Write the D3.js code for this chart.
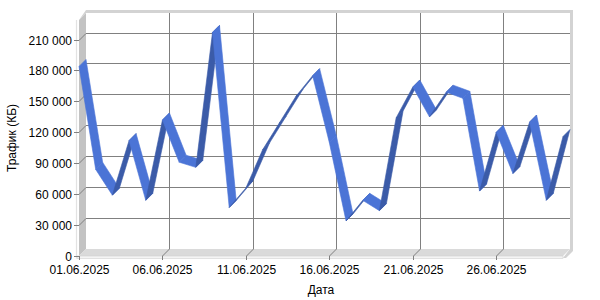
<!DOCTYPE html>
<html lang="ru">
<head>
<meta charset="UTF-8">
<title>Трафик (КБ)</title>
<script src="https://d3js.org/d3.v7.min.js"></script>
<style>
  body { margin: 0; background: #fff; font-family: "Liberation Sans", Arial, sans-serif; }
  svg text { font-size: 12px; fill: #000; }
</style>
</head>
<body>
<svg width="600" height="300"></svg>
<script>
// daily traffic, KB
const dates = [
  "01.06.2025", "02.06.2025", "03.06.2025", "04.06.2025", "05.06.2025",
  "06.06.2025", "07.06.2025", "08.06.2025", "09.06.2025", "10.06.2025",
  "11.06.2025", "12.06.2025", "13.06.2025", "14.06.2025", "15.06.2025",
  "16.06.2025", "17.06.2025", "18.06.2025", "19.06.2025", "20.06.2025",
  "21.06.2025", "22.06.2025", "23.06.2025", "24.06.2025", "25.06.2025",
  "26.06.2025", "27.06.2025", "28.06.2025", "29.06.2025", "30.06.2025"
];
const traffic = [
  184000, 84000, 59000, 112000, 54000,
  132000, 91000, 86000, 217000, 47000,
  66000, 103000, 129000, 155000, 175000,
  110000, 34000, 54000, 44000, 134000,
  164000, 135000, 159000, 153000, 63000,
  120000, 80000, 130000, 54000, 116000
];
const yTicks = [0, 30000, 60000, 90000, 120000, 150000, 180000, 210000];
const xTicks = ["01.06.2025", "06.06.2025", "11.06.2025", "16.06.2025", "21.06.2025", "26.06.2025"];
const yMax = 229000;

const parse = d3.timeParse("%d.%m.%Y");
const fmtDate = d3.timeFormat("%d.%m.%Y");
const fmtNum = d3.formatLocale({ decimal: ",", thousands: " ", grouping: [3], currency: ["", ""] }).format(",d");

// 3D depth of the plot
const DX = 7, DY = 7;

const svg = d3.select("svg");

// front plane scales; the back wall is the same shifted by (DX, -DY)
const x = d3.scaleTime()
  .domain([parse(dates[0]), parse(dates[dates.length - 1])])
  .range([79, 563]);
const y = d3.scaleLinear()
  .domain([0, yMax])
  .range([256, 20]);

const x0 = x.range()[0], x1 = x.range()[1];
const yTop = y.range()[1], yBot = y.range()[0];

// back wall
svg.append("rect")
  .attr("x", x0 + DX).attr("y", yTop - DY)
  .attr("width", x1 - x0).attr("height", yBot - yTop)
  .attr("fill", "#fff");

// top and right rims of the back wall
svg.append("path")
  .attr("d", `M${x0},${yTop} L${x0 + DX},${yTop - DY - 3} L${x1 + DX + 3},${yTop - DY - 3} L${x1 + DX + 3},${yBot - DY + 2} L${x1 + 3},${yBot + 2} L${x1},${yBot + 2} L${x1 + DX},${yBot - DY} L${x1 + DX},${yTop - DY} L${x0 + DX},${yTop - DY} Z`)
  .attr("fill", "#d3d3d3");

// left wall
svg.append("path")
  .attr("d", `M${x0},${yBot} L${x0},${yTop} L${x0 + DX},${yTop - DY} L${x0 + DX},${yBot - DY} Z`)
  .attr("fill", "#c3c3c3");

// floor
svg.append("path")
  .attr("d", `M${x0},${yBot} L${x0 + DX},${yBot - DY} L${x1 + DX},${yBot - DY} L${x1},${yBot} Z`)
  .attr("fill", "#dadada");
svg.append("rect")
  .attr("x", x0 - 2).attr("y", yBot)
  .attr("width", x1 - x0 + 2).attr("height", 2.5)
  .attr("fill", "#f4f4f4").attr("stroke", "#d0d0d0").attr("stroke-width", 0.6);

// axis lines (very light)
svg.append("line")
  .attr("x1", x0 - 2.5).attr("x2", x0 - 2.5)
  .attr("y1", yTop).attr("y2", yBot + 2.5)
  .attr("stroke", "#e2e2e2").attr("stroke-width", 1.2);

// horizontal grid + y ticks
const grid = svg.append("g").attr("stroke", "#808080").attr("stroke-width", 1).attr("fill", "none");
yTicks.forEach(v => {
  const yy = Math.round(y(v)) + 0.5;
  if (v > 0) {
    grid.append("path")
      .attr("d", `M${x0 - 5},${yy} L${x0},${yy} L${x0 + DX},${yy - DY} L${x1 + DX},${yy - DY}`);
  } else {
    grid.append("path").attr("d", `M${x0 - 5},${yy} L${x0},${yy}`);
  }
  svg.append("text")
    .attr("x", 72).attr("y", yy)
    .attr("dy", "0.36em")
    .attr("text-anchor", "end")
    .text(fmtNum(v));
});

// vertical grid + x ticks
xTicks.forEach(s => {
  const d = parse(s);
  const xx = Math.round(x(d)) + 0.5;
  if (+d > +x.domain()[0]) {
    grid.append("path")
      .attr("d", `M${xx},${yBot + 4} L${xx},${yBot} L${xx + DX},${yBot - DY} L${xx + DX},${yTop - DY}`);
  } else {
    grid.append("path").attr("d", `M${xx},${yBot + 4} L${xx},${yBot}`);
  }
  svg.append("text")
    .attr("x", xx).attr("y", 274)
    .attr("text-anchor", "middle")
    .text(fmtDate(d));
});

// axis titles
svg.append("text")
  .attr("x", (x0 + x1) / 2).attr("y", 294)
  .attr("text-anchor", "middle")
  .text("Дата");
svg.append("text")
  .attr("transform", `translate(16,${(yTop + yBot) / 2}) rotate(-90)`)
  .attr("text-anchor", "middle")
  .text("Трафик (КБ)");

// 3D ribbon line
const light = "#4b74d6", dark = "#3b5ba8";
const pts = traffic.map((v, i) => [x(parse(dates[i])), y(v)]);
const ribbon = svg.append("g");
for (let i = 0; i < pts.length - 1; i++) {
  const [ax, ay] = pts[i], [bx, by] = pts[i + 1];
  const cross = (bx - ax) * (-DY) - (by - ay) * DX;
  const c = cross > 0 ? dark : light;
  ribbon.append("path")
    .attr("d", `M${ax},${ay} L${ax + DX},${ay - DY} L${bx + DX},${by - DY} L${bx},${by} Z`)
    .attr("fill", c)
    .attr("stroke", c)
    .attr("stroke-width", 0.6)
    .attr("stroke-linejoin", "round");
}
</script>
</body>
</html>
